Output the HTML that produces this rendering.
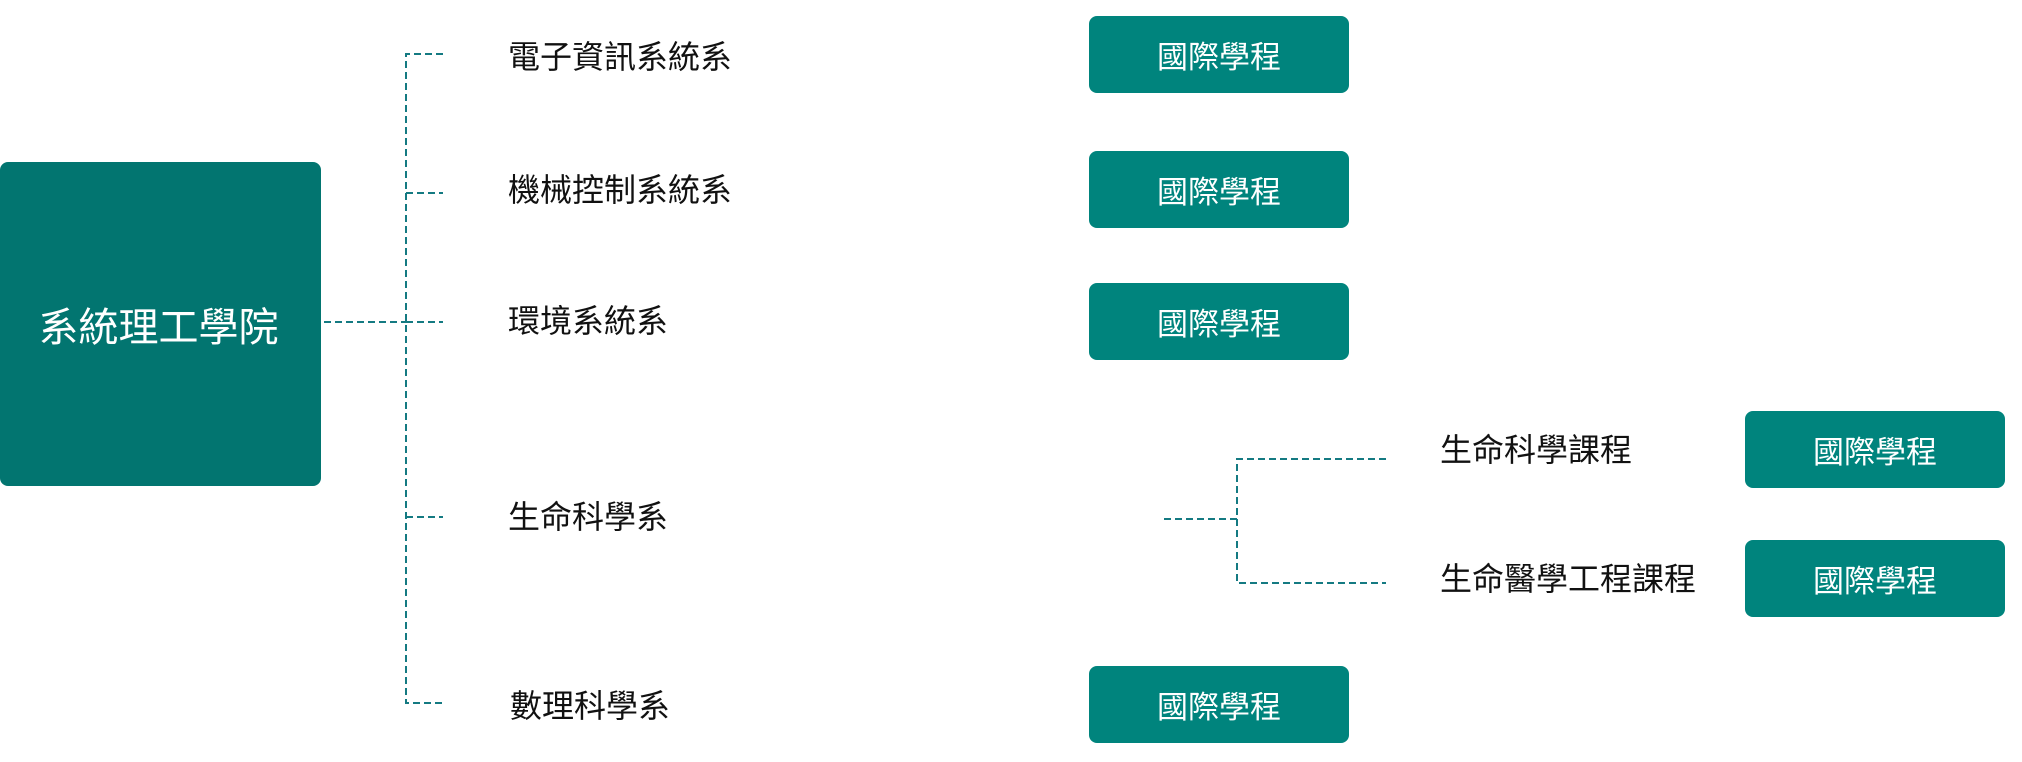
<!DOCTYPE html>
<html><head><meta charset="utf-8"><style>
html,body{margin:0;padding:0;background:#fff;}
body{width:2022px;height:762px;position:relative;overflow:hidden;font-family:"Liberation Sans","Noto Sans CJK TC",sans-serif;}
.b{position:absolute;border-radius:8px;color:#fff;display:flex;align-items:center;justify-content:center;font-size:31px;}
.i{background:#00847d;}
.l{position:absolute;font-size:32px;color:#111;line-height:40px;white-space:nowrap;}
svg{position:absolute;left:0;top:0;}
</style></head><body>
<div class="b" style="left:0;top:162px;width:321px;height:324px;background:#027570;font-size:40px;"><span style="margin-left:-4px">系統理工學院</span></div>
<svg width="2022" height="762"><g stroke="#147a82" stroke-width="2" stroke-dasharray="7,4" fill="none">
<path d="M443 54H406V703H443"/>
<path d="M406 193H443M406 517H443M406 322H443M324 322H406"/>
<path d="M1164 519H1237M1386 459H1237V583H1386"/>
</g></svg>
<div class="l" style="left:508px;top:37px">電子資訊系統系</div>
<div class="l" style="left:508px;top:170px">機械控制系統系</div>
<div class="l" style="left:508px;top:301px">環境系統系</div>
<div class="l" style="left:508px;top:497px">生命科學系</div>
<div class="l" style="left:510px;top:686px">數理科學系</div>
<div class="l" style="left:1440px;top:430px">生命科學課程</div>
<div class="l" style="left:1440px;top:559px">生命醫學工程課程</div>
<div class="b i" style="left:1089px;top:16px;width:260px;height:77px">國際學程</div>
<div class="b i" style="left:1089px;top:151px;width:260px;height:77px">國際學程</div>
<div class="b i" style="left:1089px;top:283px;width:260px;height:77px">國際學程</div>
<div class="b i" style="left:1089px;top:666px;width:260px;height:77px">國際學程</div>
<div class="b i" style="left:1745px;top:411px;width:260px;height:77px">國際學程</div>
<div class="b i" style="left:1745px;top:540px;width:260px;height:77px">國際學程</div>
</body></html>
